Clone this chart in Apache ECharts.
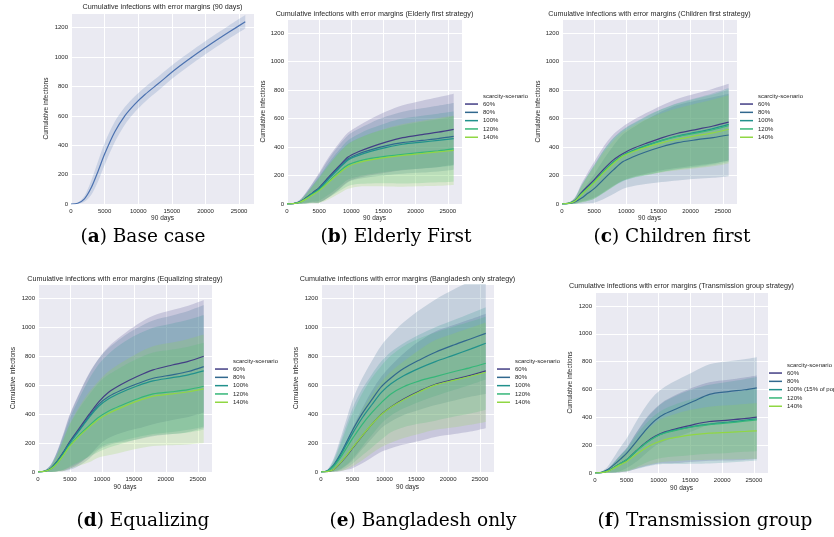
<!DOCTYPE html>
<html><head><meta charset="utf-8">
<script src="https://cdn.jsdelivr.net/npm/echarts@6/dist/echarts.min.js"></script>
<style>html,body{margin:0;padding:0;background:#fff}#c{width:834px;height:537px}</style>
</head><body><div id="c"></div>
<script>
// ---- data (time steps over 90 days, 5-minute steps) ----
const steps  = [0, 1000, 2000, 3000, 4000, 5000, 6500, 8000, 9500, 11000, 13000, 15500, 18000, 21000, 23500, 25920];
const stepsF = [0, 1000, 2000, 3000, 4000, 5000, 6500, 8000, 9500, 11000, 13000, 15500, 18000, 21000, 23500, 25450];
const scenarios  = ['60%', '80%', '100%', '120%', '140%'];
const scenariosF = ['60%', '80%', '100% (15% of population)', '120%', '140%'];
const xTicks = [0, 5000, 10000, 15000, 20000, 25000];
const yTicks = [0, 200, 400, 600, 800, 1000, 1200];

// (a) base case
const baseMean = [0, 5, 35, 110, 220, 340, 490, 600, 680, 745, 820, 915, 1000, 1095, 1170, 1240];
const baseSd   = [0, 4, 20, 48, 68, 75, 70, 60, 54, 50, 48, 46, 45, 45, 45, 46];

// (b) elderly first
const eld60  = [0, 3, 15, 45, 80, 115, 190, 262, 330, 365, 400, 437, 466, 488, 505, 525];
const eld80  = [0, 3, 14, 43, 77, 110, 182, 252, 318, 350, 380, 410, 431, 447, 460, 475];
const eld100 = [0, 3, 14, 42, 75, 108, 178, 246, 310, 340, 370, 398, 420, 435, 447, 460];
const eld120 = [0, 3, 12, 38, 68, 98, 160, 222, 275, 300, 320, 337, 349, 363, 374, 387];
const eld140 = [0, 3, 12, 36, 65, 94, 153, 212, 263, 290, 310, 328, 342, 355, 366, 377];
const eld60sd  = [0, 3, 14, 40, 70, 105, 140, 160, 172, 182, 198, 215, 228, 238, 245, 250];
const eld80sd  = [0, 3, 13, 38, 68, 100, 135, 155, 165, 175, 190, 206, 218, 226, 231, 235];
const eld100sd = [0, 3, 12, 32, 58, 85, 112, 128, 138, 148, 160, 172, 180, 185, 188, 190];
const eld120sd = [0, 3, 11, 34, 60, 88, 115, 135, 148, 160, 176, 192, 205, 215, 222, 230];
const eld140sd = [0, 3, 11, 34, 60, 88, 120, 142, 156, 168, 186, 205, 220, 230, 238, 243];

// (c) children first
const chi60  = [0, 5, 25, 80, 125, 170, 245, 310, 355, 390, 425, 465, 497, 525, 548, 575];
const chi80  = [0, 3, 15, 40, 75, 108, 175, 240, 298, 330, 365, 402, 431, 452, 467, 485];
const chi100 = [0, 4, 22, 70, 112, 155, 230, 295, 343, 375, 410, 447, 478, 505, 530, 560];
const chi120 = [0, 4, 22, 70, 112, 155, 228, 292, 340, 372, 405, 445, 475, 500, 522, 550];
const chi140 = [0, 4, 20, 65, 108, 150, 222, 285, 337, 367, 398, 430, 455, 480, 500, 525];
const chi60sd  = [0, 4, 20, 60, 95, 125, 160, 180, 190, 198, 212, 228, 243, 253, 262, 270];
const chi80sd  = [0, 3, 14, 38, 70, 100, 140, 170, 190, 205, 225, 248, 265, 275, 283, 290];
const chi100sd = [0, 4, 20, 58, 90, 118, 150, 170, 180, 190, 205, 220, 232, 242, 248, 255];
const chi120sd = [0, 4, 20, 58, 90, 118, 150, 170, 180, 190, 205, 220, 232, 242, 248, 255];
const chi140sd = [0, 4, 19, 55, 85, 112, 142, 160, 170, 180, 195, 208, 218, 228, 235, 240];

// (d) equalizing
const equ60  = [0, 5, 25, 75, 140, 212, 305, 398, 485, 550, 605, 660, 706, 740, 765, 800];
const equ80  = [0, 5, 24, 72, 135, 205, 295, 385, 468, 520, 565, 610, 648, 672, 695, 729];
const equ100 = [0, 5, 24, 72, 133, 202, 290, 378, 455, 505, 550, 595, 630, 652, 672, 699];
const equ120 = [0, 4, 20, 62, 120, 185, 258, 320, 378, 420, 460, 505, 540, 555, 570, 593];
const equ140 = [0, 4, 20, 60, 117, 180, 250, 310, 365, 405, 445, 490, 525, 540, 555, 575];
const equ60sd  = [0, 5, 25, 70, 130, 190, 245, 285, 300, 315, 335, 360, 375, 380, 385, 389];
const equ80sd  = [0, 5, 24, 68, 128, 190, 250, 293, 315, 335, 360, 385, 400, 410, 418, 425];
const equ100sd = [0, 5, 24, 65, 118, 170, 225, 265, 290, 310, 335, 355, 368, 375, 380, 386];
const equ120sd = [0, 4, 20, 58, 105, 145, 185, 215, 238, 252, 265, 278, 287, 292, 296, 300];
const equ140sd = [0, 4, 20, 58, 110, 155, 205, 243, 265, 290, 310, 330, 345, 355, 365, 375];

// (e) Bangladesh only
const ban60  = [0, 3, 18, 60, 110, 166, 250, 330, 400, 450, 505, 560, 607, 640, 668, 699];
const ban80  = [0, 8, 50, 120, 205, 292, 405, 500, 590, 650, 715, 775, 828, 880, 920, 959];
const ban100 = [0, 7, 45, 110, 190, 269, 375, 465, 550, 610, 665, 718, 763, 810, 850, 890];
const ban120 = [0, 6, 38, 95, 165, 234, 330, 410, 480, 540, 590, 630, 660, 695, 722, 752];
const ban140 = [0, 3, 18, 62, 113, 170, 252, 330, 398, 448, 500, 555, 602, 635, 662, 690];
const ban60sd  = [0, 3, 18, 55, 95, 140, 190, 230, 260, 285, 315, 345, 365, 378, 388, 396];
const ban80sd  = [0, 7, 45, 105, 160, 210, 245, 268, 285, 300, 320, 345, 365, 385, 400, 420];
const ban100sd = [0, 7, 40, 90, 140, 175, 200, 210, 215, 220, 225, 232, 238, 242, 246, 250];
const ban120sd = [0, 6, 35, 85, 135, 175, 215, 240, 255, 265, 280, 295, 305, 312, 318, 322];
const ban140sd = [0, 3, 18, 55, 95, 130, 170, 200, 225, 245, 265, 290, 310, 325, 335, 344];

// (f) transmission group
const tra60  = [0, 3, 15, 40, 68, 95, 160, 220, 265, 295, 320, 348, 370, 380, 390, 401];
const tra80  = [0, 5, 25, 60, 100, 143, 225, 310, 380, 425, 465, 515, 565, 585, 598, 612];
const tra100 = [0, 3, 15, 40, 68, 95, 158, 215, 260, 290, 313, 335, 351, 365, 378, 389];
const tra120 = [0, 3, 15, 40, 68, 95, 157, 213, 258, 287, 310, 332, 348, 360, 372, 382];
const tra140 = [0, 3, 12, 35, 60, 83, 135, 180, 215, 240, 258, 275, 286, 292, 298, 303];
const tra60sd  = [0, 3, 14, 38, 62, 85, 130, 170, 200, 225, 248, 268, 282, 290, 296, 300];
const tra80sd  = [0, 5, 22, 55, 85, 107, 145, 170, 185, 195, 205, 212, 216, 218, 219, 220];
const tra100sd = [0, 3, 14, 38, 62, 85, 130, 170, 200, 225, 248, 268, 282, 290, 296, 300];
const tra120sd = [0, 3, 13, 35, 58, 78, 115, 140, 160, 175, 190, 202, 210, 216, 220, 225];
const tra140sd = [0, 3, 11, 32, 52, 70, 100, 125, 145, 160, 172, 182, 190, 194, 197, 200];

// ---- styling ----
const viridis = ['#433e85', '#31688e', '#21918c', '#35b779', '#90d743'];
const baseBlue = '#4c72b0';
const SANS = 'Liberation Sans, Arial, sans-serif';
const SERIF = 'DejaVu Serif, serif';
const TXT = '#262626';

const panels = [
  {grid:{left:71, top:13, width:183, height:191}, x:steps, names:['Base case'], means:[baseMean], sds:[baseSd], colors:[baseBlue],
   title:'Cumulative infections with error margins (90 days)', ty:7, ygap:21, xgap:10.5, legend:null,
   cap:{l:'a', t:' Base case', x:143, y:237}},
  {grid:{left:287, top:19, width:175, height:185}, x:steps, names:scenarios, means:[eld60,eld80,eld100,eld120,eld140], sds:[eld60sd,eld80sd,eld100sd,eld120sd,eld140sd], colors:viridis,
   title:'Cumulative infections with error margins (Elderly first strategy)', ty:14, ygap:15.5, xgap:10.5, legend:{lx:465, tx:483, ty:96.7},
   cap:{l:'b', t:' Elderly First', x:396, y:237}},
  {grid:{left:562, top:19, width:175, height:185}, x:steps, names:scenarios, means:[chi60,chi80,chi100,chi120,chi140], sds:[chi60sd,chi80sd,chi100sd,chi120sd,chi140sd], colors:viridis,
   title:'Cumulative infections with error margins (Children first strategy)', ty:14, ygap:15.5, xgap:10.5, legend:{lx:740, tx:758, ty:96.7},
   cap:{l:'c', t:' Children first', x:672, y:237}},
  {grid:{left:38, top:284, width:174, height:188}, x:steps, names:scenarios, means:[equ60,equ80,equ100,equ120,equ140], sds:[equ60sd,equ80sd,equ100sd,equ120sd,equ140sd], colors:viridis,
   title:'Cumulative infections with error margins (Equalizing strategy)', ty:279, ygap:21, xgap:12, legend:{lx:215, tx:233, ty:361.7},
   cap:{l:'d', t:' Equalizing', x:143, y:521}},
  {grid:{left:321, top:284, width:173, height:188}, x:steps, names:scenarios, means:[ban60,ban80,ban100,ban120,ban140], sds:[ban60sd,ban80sd,ban100sd,ban120sd,ban140sd], colors:viridis,
   title:'Cumulative infections with error margins (Bangladesh only strategy)', ty:279, ygap:21, xgap:12, legend:{lx:497, tx:515, ty:361.7},
   cap:{l:'e', t:' Bangladesh only', x:423, y:521}},
  {grid:{left:595, top:292, width:173, height:181}, x:stepsF, names:scenariosF, means:[tra60,tra80,tra100,tra120,tra140], sds:[tra60sd,tra80sd,tra100sd,tra120sd,tra140sd], colors:viridis,
   title:'Cumulative infections with error margins (Transmission group strategy)', ty:285.7, ygap:21, xgap:12, legend:{lx:769, tx:787, ty:365.7},
   cap:{l:'f', t:' Transmission group', x:705, y:521}}
];

const grid = [], xAxis = [], yAxis = [], series = [], legend = [], graphic = [];
const XMAX = 27216, YMAX = 1300;
const SMOOTH = 0.3;

// Same control-point rule as ECharts' smoothed line, applied to the band edges in pixel space
function smoothSegments(pts, s) {
  const n = pts.length, out = [];
  const d = (a, b) => Math.hypot(a[0] - b[0], a[1] - b[1]);
  const cps = pts.map((cur, i) => {
    if (i === 0 || i === n - 1) return {before: cur, after: cur};
    const prev = pts[i - 1], next = pts[i + 1];
    const vx = next[0] - prev[0], vy = next[1] - prev[1];
    const lp = d(cur, prev), ln = d(cur, next);
    const r = (lp + ln) > 0 ? ln / (lp + ln) : 0.5;
    return {before: [cur[0] - vx * s * (1 - r), cur[1] - vy * s * (1 - r)],
            after:  [cur[0] + vx * s * r,       cur[1] + vy * s * r]};
  });
  for (let i = 0; i < n - 1; i++) {
    const a = cps[i].after, b = cps[i + 1].before, e = pts[i + 1];
    out.push('C' + a[0].toFixed(2) + ' ' + a[1].toFixed(2) + ' ' + b[0].toFixed(2) + ' ' + b[1].toFixed(2) + ' ' + e[0].toFixed(2) + ' ' + e[1].toFixed(2));
  }
  return out.join(' ');
}

panels.forEach((p, i) => {
  grid.push(Object.assign({show:true, backgroundColor:'#eaeaf2', borderWidth:0, containLabel:false}, p.grid));
  const axisCommon = {
    axisLine:{show:false}, axisTick:{show:false},
    splitLine:{show:true, lineStyle:{color:'#ffffff', width:1}},
    nameTextStyle:{fontSize:6.5, color:TXT, fontFamily:SANS},
    gridIndex:i
  };
  xAxis.push(Object.assign({}, axisCommon, {
    type:'value', min:0, max:XMAX, interval:5000, name:'90 days', nameLocation:'middle', nameGap:p.xgap,
    axisLabel:{fontSize:6, color:TXT, fontFamily:SANS, margin:4,
      formatter: v => xTicks.indexOf(v) >= 0 ? String(v) : ''}
  }));
  yAxis.push(Object.assign({}, axisCommon, {
    type:'value', min:0, max:YMAX, interval:200, name:'Cumulative infections', nameLocation:'middle', nameGap:p.ygap, nameRotate:90,
    axisLabel:{fontSize:6, color:TXT, fontFamily:SANS, margin:3,
      formatter: v => yTicks.indexOf(v) >= 0 ? String(v) : ''}
  }));
  // error bands (mean ± sd), positioned through the axes' scales
  p.means.forEach((m, j) => {
    const sd = p.sds[j], col = p.colors[j];
    series.push({
      type:'custom', xAxisIndex:i, yAxisIndex:i, silent:true, z:1, clip:true, animation:false,
      data:[[0, 0]],
      renderItem:(params, api) => {
        const up = p.x.map((x, k) => api.coord([x, m[k] + sd[k]]));
        const lo = p.x.map((x, k) => api.coord([x, m[k] - sd[k]])).reverse();
        const path = 'M' + up[0][0] + ' ' + up[0][1] + ' ' + smoothSegments(up, SMOOTH) +
          ' L' + lo[0][0] + ' ' + lo[0][1] + ' ' + smoothSegments(lo, SMOOTH) + ' Z';
        return {type:'path', shape:{pathData:path, layout:'cover'}, style:{fill:col, opacity:0.2}};
      }
    });
  });
  // mean lines
  p.means.forEach((m, j) => {
    const col = p.colors[j];
    series.push({type:'line', name:p.names[j], xAxisIndex:i, yAxisIndex:i, symbol:'none', smooth:SMOOTH,
      data:p.x.map((x, k) => [x, m[k]]), lineStyle:{color:col, width:1.2}, itemStyle:{color:col}, z:3, animation:false, silent:true});
  });
  // title
  graphic.push({type:'text', silent:true, style:{text:p.title, x:p.grid.left + p.grid.width/2, y:p.ty, align:'center', verticalAlign:'middle',
    font:'7.2px ' + SANS, fill:TXT}});
  // legend
  if (p.legend) {
    legend.push({orient:'vertical', left:p.legend.lx, top:p.legend.ty + 3.2, padding:0, itemWidth:13, itemHeight:1.5, itemGap:0,
      icon:'rect', data:p.names.slice(), selectedMode:false,
      textStyle:{fontSize:6, lineHeight:8.3, color:TXT, fontFamily:SANS}});
    graphic.push({type:'text', silent:true, style:{text:'scarcity-scenario', x:p.legend.tx, y:p.legend.ty, align:'left', verticalAlign:'middle',
      font:'6px ' + SANS, fill:TXT}});
  }
  // caption
  graphic.push({type:'text', silent:true, style:{
    text:'{p|(}{b|' + p.cap.l + '}{p|)' + p.cap.t + '}', x:p.cap.x, y:p.cap.y, align:'center', verticalAlign:'middle',
    rich:{p:{fontFamily:SERIF, fontSize:18.5, fill:'#000', fontWeight:'normal'}, b:{fontFamily:SERIF, fontSize:18.5, fill:'#000', fontWeight:'bold'}}
  }});
});

const chart = echarts.init(document.getElementById('c'), null, {renderer:'canvas'});
chart.setOption({
  backgroundColor:'#ffffff', animation:false,
  grid, xAxis, yAxis, series, legend, graphic
});
</script></body></html>
